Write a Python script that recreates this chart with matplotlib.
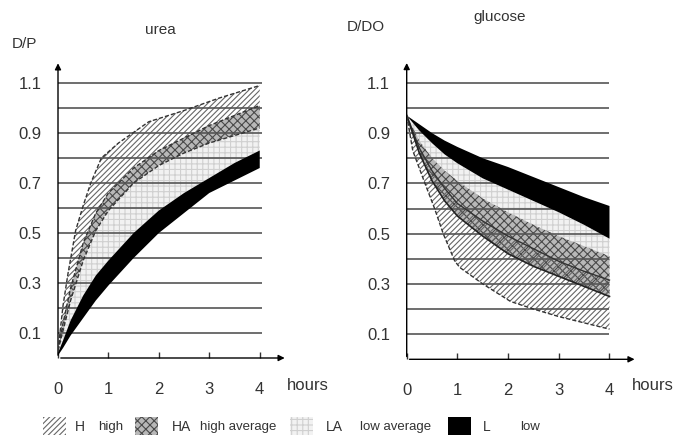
import matplotlib
matplotlib.use('Agg')
import matplotlib.pyplot as plt
from matplotlib.patches import Rectangle
import numpy as np

# ---- data ----
# urea D/P
urea_t = [0, 0.1, 0.25, 0.5, 0.75, 1, 1.5, 2, 2.5, 3, 3.5, 4]
urea_h_top_t = [0, 0.05, 0.1, 0.2, 0.35, 0.5, 0.65, 0.86, 1.2, 1.8, 2.5, 3.2, 4.0]
urea_h_top = [0.03, 0.12, 0.21, 0.34, 0.51, 0.61, 0.70, 0.80, 0.86, 0.945, 0.99, 1.04, 1.09]
urea_h_low = [0.03, 0.14, 0.28, 0.46, 0.58, 0.66, 0.76, 0.83, 0.88, 0.93, 0.97, 1.01]
urea_ha_low = [0.03, 0.11, 0.23, 0.39, 0.51, 0.59, 0.70, 0.77, 0.82, 0.86, 0.89, 0.92]
urea_l_top = [0.02, 0.07, 0.15, 0.25, 0.33, 0.39, 0.50, 0.59, 0.66, 0.72, 0.78, 0.83]
urea_l_low = [0.01, 0.04, 0.09, 0.16, 0.23, 0.29, 0.40, 0.50, 0.58, 0.66, 0.71, 0.76]

# glucose D/D0
gluc_t = [0, 0.25, 0.5, 0.75, 1, 1.5, 2, 2.5, 3, 3.5, 4]
gluc_l_top = [0.97, 0.935, 0.90, 0.87, 0.845, 0.80, 0.765, 0.725, 0.685, 0.645, 0.61]
gluc_l_low = [0.97, 0.91, 0.86, 0.815, 0.78, 0.72, 0.675, 0.63, 0.585, 0.535, 0.48]
gluc_la_low = [0.97, 0.87, 0.80, 0.75, 0.71, 0.64, 0.585, 0.535, 0.49, 0.45, 0.41]
gluc_h_top = [0.97, 0.84, 0.75, 0.68, 0.62, 0.55, 0.49, 0.44, 0.39, 0.35, 0.315]
gluc_ha_low = [0.97, 0.82, 0.71, 0.63, 0.57, 0.49, 0.42, 0.37, 0.33, 0.29, 0.25]
gluc_h_low_t = [0, 0.12, 0.36, 0.55, 0.72, 0.95, 1.05, 1.5, 2.05, 2.5, 3.0, 3.5, 4.0]
gluc_h_low = [0.97, 0.83, 0.70, 0.60, 0.50, 0.39, 0.365, 0.30, 0.23, 0.20, 0.17, 0.145, 0.12]

y_ticks = [0.1, 0.3, 0.5, 0.7, 0.9, 1.1]
grid_levels = [0.1, 0.2, 0.3, 0.4, 0.5, 0.6, 0.7, 0.8, 0.9, 1.0, 1.1]
x_ticks = [0, 1, 2, 3, 4]

plt.rcParams['font.family'] = ['Liberation Sans', 'DejaVu Sans']
plt.rcParams['hatch.linewidth'] = 0.8

STY = {
    'H': dict(facecolor='none', edgecolor='#666666', hatch='//////'),
    'HA': dict(facecolor='#b8b8b8', edgecolor='#4a4a4a', hatch='xxxx'),
    'LA': dict(facecolor='#f2f2f2', edgecolor='#d0d0d0', hatch='+++'),
    'L': dict(facecolor='black', edgecolor='black', hatch=None),
}


def band(ax, t1, v1, t2, v2, key, z):
    xs = np.concatenate([t1, t2[::-1]])
    ys = np.concatenate([v1, v2[::-1]])
    ax.fill(xs, ys, linewidth=0, zorder=z, **STY[key])


def frame(ax, right_end):
    ax.set_xlim(0, 4.6)
    ax.set_ylim(0, 1.2)
    for s in ax.spines.values():
        s.set_visible(False)
    ax.hlines(grid_levels, 0, right_end, color='#555555', lw=1.2, zorder=2)
    ax.annotate('', xy=(0, 1.19), xytext=(0, 0),
                arrowprops=dict(arrowstyle='-|>', color='black', lw=1, mutation_scale=9),
                annotation_clip=False)
    ax.annotate('', xy=(4.55, 0), xytext=(0, 0),
                arrowprops=dict(arrowstyle='-|>', color='black', lw=1, mutation_scale=9),
                annotation_clip=False)
    ax.set_xticks(x_ticks)
    ax.set_yticks(y_ticks)
    ax.set_yticklabels([f'{v:.1f}' for v in y_ticks])
    ax.tick_params(axis='x', direction='in', length=4, width=1, pad=17, labelsize=12, colors='#333333')
    ax.tick_params(axis='y', length=0, pad=12, labelsize=12, colors='#333333')
    ax.patch.set_alpha(0)


fig = plt.figure(figsize=(6.89, 4.43), dpi=100)

# ---- urea ----
ax1 = fig.add_axes([58 / 689, 1 - 358 / 443, 232 / 689, 300 / 443])
frame(ax1, 4.05)
ut = np.array(urea_t)
band(ax1, ut, np.array(urea_h_low), ut, np.array(urea_ha_low), 'HA', 1)
band(ax1, ut, np.array(urea_ha_low), ut, np.array(urea_l_top), 'LA', 1)
band(ax1, np.array(urea_h_top_t), np.array(urea_h_top), ut, np.array(urea_h_low), 'H', 1.5)
band(ax1, ut, np.array(urea_l_top), ut, np.array(urea_l_low), 'L', 3)
for tt, vv in [(urea_h_top_t, urea_h_top), (urea_t, urea_h_low), (urea_t, urea_ha_low)]:
    ax1.plot(tt, vv, color='#333333', lw=1, ls=(0, (3, 1.5)), zorder=4)

# ---- glucose ----
ax2 = fig.add_axes([406.7 / 689, 1 - 359.3 / 443, 233.2 / 689, 301.6 / 443])
frame(ax2, 4.0)
gt = np.array(gluc_t)
band(ax2, gt, np.array(gluc_l_low), gt, np.array(gluc_la_low), 'LA', 1)
band(ax2, gt, np.array(gluc_la_low), gt, np.array(gluc_ha_low), 'HA', 1)
band(ax2, gt, np.array(gluc_h_top), np.array(gluc_h_low_t), np.array(gluc_h_low), 'H', 1.5)
band(ax2, gt, np.array(gluc_l_top), gt, np.array(gluc_l_low), 'L', 3)
ax2.plot(gluc_t, gluc_h_top, color='#333333', lw=1, zorder=4)
ax2.plot(gluc_t, gluc_ha_low, color='#222222', lw=1.2, zorder=4)
ax2.plot(gluc_h_low_t, gluc_h_low, color='#333333', lw=1, ls=(0, (3, 1.5)), zorder=4)

# ---- texts ----
tc = '#333333'
fig.text(160 / 689, 1 - 30 / 443, 'urea', ha='center', va='center', fontsize=11, color=tc)
fig.text(12 / 689, 1 - 44 / 443, 'D/P', ha='left', va='center', fontsize=11, color=tc)
fig.text(500 / 689, 1 - 17 / 443, 'glucose', ha='center', va='center', fontsize=11, color=tc)
fig.text(347 / 689, 1 - 27 / 443, 'D/DO', ha='left', va='center', fontsize=11, color=tc)
fig.text(287 / 689, 1 - 386 / 443, 'hours', ha='left', va='center', fontsize=12, color=tc)
fig.text(632 / 689, 1 - 386 / 443, 'hours', ha='left', va='center', fontsize=12, color=tc)

# ---- legend ----
legend_items = [
    ('H', 43, 'H', 75, 'high', 98),
    ('HA', 135, 'HA', 172, 'high average', 200),
    ('LA', 290, 'LA', 326, 'low average', 360),
    ('L', 448, 'L', 483, 'low', 520),
]
for key, px, abbr, ax_, name, nx in legend_items:
    sty = dict(STY[key])
    if sty['facecolor'] == 'none':
        sty['facecolor'] = 'white'
    fig.add_artist(Rectangle((px / 689, 1 - 435 / 443), 23 / 689, 18 / 443,
                             transform=fig.transFigure, linewidth=0, **sty))
    fig.text(ax_ / 689, 1 - 427 / 443, abbr, ha='left', va='center', fontsize=10, color=tc)
    fig.text(nx / 689, 1 - 427 / 443, name, ha='left', va='center', fontsize=9.5, color=tc)

fig.savefig('out.png', dpi=100)
